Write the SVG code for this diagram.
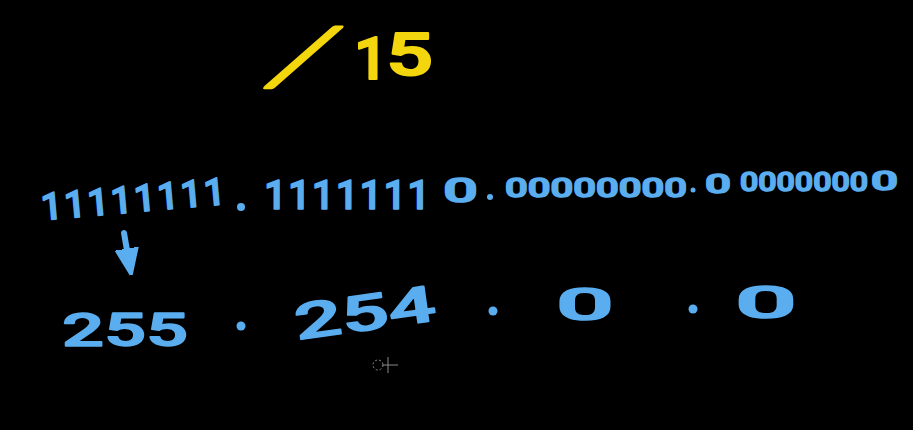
<svg xmlns="http://www.w3.org/2000/svg" width="913" height="430" viewBox="0 0 913 430">
<style>
.b{fill:#5aadee;stroke:#5aadee;stroke-width:1.5;stroke-linejoin:round;font-family:Roboto,"Noto Sans",sans-serif;font-weight:500}
.y{fill:#f3d60d;stroke:#f3d60d;stroke-width:2;stroke-linejoin:round;font-family:Roboto,"Noto Sans",sans-serif;font-weight:500}
.dot{fill:#5aadee}
</style>
<defs>
<marker id="ah" viewBox="0 0 10 10" refX="5" refY="5" markerWidth="4.5" markerHeight="4.5" orient="auto" markerUnits="strokeWidth">
<path d="M0,1 L10,5 L0,9 Z" fill="#5aadee" stroke="#5aadee" stroke-linejoin="round"/>
</marker>
</defs>
<rect width="913" height="430" fill="#000"/>
<g id="prefix">
<text class="y" transform="translate(270,82) skewX(-38)" x="0" y="0" font-size="76" style="stroke-width:5">/</text>
<text class="y" x="354" y="79" font-size="60">1</text>
<text class="y" x="386" y="75" font-size="60" textLength="47" lengthAdjust="spacingAndGlyphs">5</text>
</g>
<g id="binary">
<text class="b" transform="rotate(-5 45 220)" x="42" y="220" font-size="38" textLength="185" lengthAdjust="spacing">11111111</text>
<circle class="dot" cx="241" cy="207" r="4"/>
<text class="b" x="264" y="209" font-size="40" textLength="166" lengthAdjust="spacing">1111111</text>
<text class="b" x="443" y="202" font-size="34" textLength="35" lengthAdjust="spacingAndGlyphs">0</text>
<circle class="dot" cx="490" cy="197" r="3"/>
<text class="b" x="505" y="197" font-size="26" textLength="182" lengthAdjust="spacingAndGlyphs">00000000</text>
<circle class="dot" cx="693" cy="190" r="2.5"/>
<text class="b" x="705" y="193" font-size="26" textLength="26" lengthAdjust="spacingAndGlyphs">0</text>
<text class="b" x="740" y="191" font-size="25" textLength="128" lengthAdjust="spacingAndGlyphs">0000000</text>
<text class="b" x="871" y="190" font-size="25" textLength="27" lengthAdjust="spacingAndGlyphs">0</text>
</g>
<g id="decimal">
<text class="b" x="62" y="346" font-size="46" textLength="126" lengthAdjust="spacingAndGlyphs">255</text>
<circle class="dot" cx="241" cy="326" r="4.5"/>
<text class="b" transform="rotate(-8 297 340)" x="297" y="340" font-size="50" textLength="142" lengthAdjust="spacingAndGlyphs">254</text>
<circle class="dot" cx="493" cy="311" r="4.5"/>
<text class="b" x="556" y="320" font-size="44" textLength="58" lengthAdjust="spacingAndGlyphs">0</text>
<circle class="dot" cx="693" cy="309" r="4.5"/>
<text class="b" x="735" y="318" font-size="44" textLength="62" lengthAdjust="spacingAndGlyphs">0</text>
</g>
<g id="connectors">
<path d="M124,233 L129,262" fill="none" stroke="#5aadee" stroke-width="6" stroke-linecap="round" marker-end="url(#ah)"/>
</g>
<g id="cursor" fill="none" stroke="#8a8a8a" stroke-width="1">
<circle cx="378" cy="365" r="5" stroke-dasharray="2 2"/>
<path d="M388,357 V373 M382,365 H398"/>
</g>
</svg>
